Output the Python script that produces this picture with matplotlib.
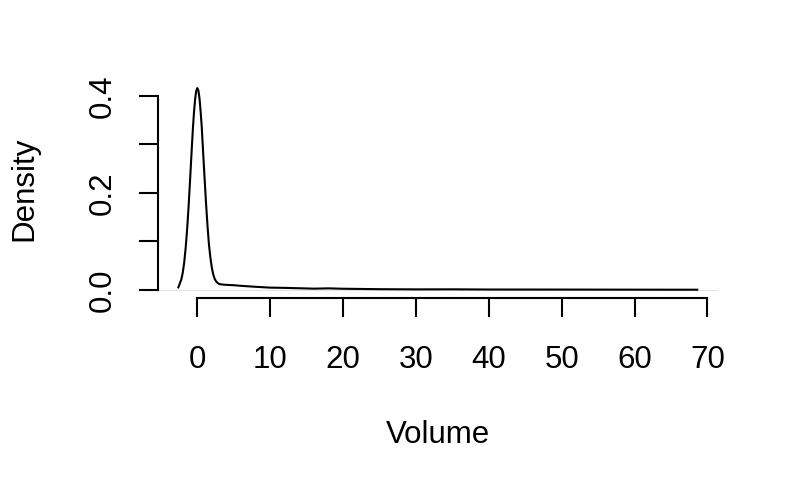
import numpy as np
from matplotlib import pyplot as plt

plt.rcParams['font.family'] = ['Liberation Sans', 'DejaVu Sans']

# density curve
volume = [-2.6, -2.2, -2.0, -1.8, -1.6, -1.4, -1.2, -1.0, -0.8, -0.6, -0.45,
          -0.3, -0.15, 0.0, 0.15, 0.3, 0.45, 0.6, 0.8, 1.0, 1.2, 1.4, 1.6,
          1.8, 2.0, 2.2, 2.4, 2.6, 2.8, 3.0, 3.5, 4.0, 5.0, 6.0, 8.0, 10.0,
          12.0, 14.0, 16.0, 18.0, 20.0, 25.0, 30.0, 35.0, 40.0, 50.0, 60.0, 68.6]
density = [0.005, 0.021, 0.035, 0.056, 0.086, 0.124, 0.171, 0.224, 0.280, 0.334, 0.367,
           0.393, 0.410, 0.416, 0.411, 0.395, 0.369, 0.338, 0.283, 0.230, 0.178, 0.132, 0.093,
           0.066, 0.045, 0.031, 0.022, 0.017, 0.014, 0.012, 0.0108, 0.0102, 0.0095, 0.0082, 0.0062, 0.0045,
           0.0040, 0.0032, 0.0024, 0.0030, 0.0022, 0.0013, 0.0009, 0.0010, 0.0006, 0.0005, 0.0003, 0.0002]

xticks = [0, 10, 20, 30, 40, 50, 60, 70]
yticks = [0.0, 0.1, 0.2, 0.3, 0.4]
ylabels = ['0.0', '', '0.2', '', '0.4']

fig = plt.figure(figsize=(8, 4.94), dpi=100)
ax = fig.add_axes([0.197, 0.397, 0.7005, 0.441])

# R style 4% padding around data range
xr = max(volume) - min(volume)
yr = max(density)
ax.set_xlim(min(volume) - 0.04 * xr, max(volume) + 0.04 * xr)
ax.set_ylim(-0.04 * yr, yr * 1.04)

ax.axhline(0, color='#dddddd', lw=0.6, zorder=1)
ax.plot(volume, density, color='black', lw=1.5, zorder=2)

for s in ['top', 'right']:
    ax.spines[s].set_visible(False)
ax.spines['left'].set_bounds(0, 0.4)
ax.spines['bottom'].set_bounds(0, 70)
for s in ['left', 'bottom']:
    ax.spines[s].set_linewidth(1.5)

ax.set_xticks(xticks)
ax.set_xticklabels([str(t) for t in xticks])
ax.set_yticks(yticks)
ax.set_yticklabels(ylabels, rotation=90, va='center')
ax.tick_params(axis='both', length=13.7, width=1.5, labelsize=22.5)
ax.tick_params(axis='x', pad=20)
ax.tick_params(axis='y', pad=15)

fig.text(0.547, 1 - 435 / 494, 'Volume', ha='center', va='center', fontsize=22.5)
fig.text(24 / 800, 1 - 189 / 494, 'Density', ha='center', va='center',
         rotation=90, fontsize=22.5)

plt.savefig('out.png', dpi=100)
